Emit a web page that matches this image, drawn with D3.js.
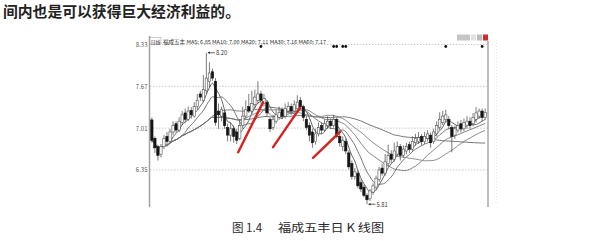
<!DOCTYPE html>
<html><head><meta charset="utf-8">
<script src="https://cdn.jsdelivr.net/npm/d3@7"></script>
<style>html,body{margin:0;padding:0;background:#fff;overflow:hidden}svg{display:block}</style>
</head><body>
<svg id="c" width="613" height="241"></svg>
<script>
// Daily OHLC prices of 福成五丰
const opens  = [7.14,6.85,6.72,6.60,6.72,6.88,6.80,6.95,7.08,6.98,7.10,7.25,7.15,7.29,7.20,7.35,7.55,7.45,7.60,7.75,7.90,7.75,7.28,7.20,7.25,7.02,6.90,7.00,6.95,6.85,7.05,7.20,7.35,7.28,7.38,7.45,7.55,7.40,7.42,7.15,7.02,7.12,7.18,7.30,7.20,7.28,7.35,7.28,7.32,7.45,7.35,7.15,7.05,6.95,6.80,6.92,7.05,6.98,7.05,7.12,7.05,7.15,6.88,6.72,6.80,6.62,6.45,6.25,6.30,6.15,6.08,5.95,5.90,6.00,6.08,6.20,6.38,6.30,6.45,6.60,6.52,6.60,6.72,6.58,6.65,6.75,6.68,6.78,6.80,6.88,6.80,6.85,6.90,6.80,6.92,7.02,7.10,7.15,7.15,7.02,6.90,6.98,7.08,7.00,7.05,7.12,7.08,7.15,7.20,7.28,7.18];
const highs  = [7.18,6.88,6.75,6.76,6.90,6.95,7.00,7.12,7.12,7.18,7.28,7.32,7.35,7.34,7.42,7.55,7.60,7.85,8.20,8.05,7.95,7.80,7.40,7.35,7.30,7.08,7.10,7.05,7.00,7.15,7.35,7.45,7.55,7.60,7.62,7.75,7.60,7.55,7.45,7.18,7.22,7.30,7.35,7.34,7.40,7.42,7.40,7.45,7.53,7.50,7.38,7.20,7.10,7.00,7.00,7.10,7.10,7.15,7.20,7.16,7.22,7.18,6.92,6.88,6.84,6.66,6.50,6.38,6.34,6.20,6.12,5.98,6.05,6.14,6.26,6.40,6.45,6.60,6.75,6.66,6.78,6.80,6.76,6.74,6.78,6.80,6.88,6.92,6.95,6.92,6.95,6.98,6.94,7.00,7.12,7.26,7.28,7.30,7.20,7.06,7.05,7.12,7.14,7.16,7.20,7.18,7.25,7.34,7.32,7.32,7.32];
const lows   = [6.78,6.62,6.50,6.55,6.68,6.76,6.78,6.90,6.94,6.95,7.06,7.10,7.12,7.16,7.18,7.30,7.44,7.42,7.55,7.65,7.76,7.05,7.00,7.12,7.00,6.80,6.80,6.78,6.76,6.82,7.00,7.15,7.25,7.24,7.32,7.40,7.40,7.35,7.20,6.95,6.98,7.08,7.14,7.15,7.16,7.24,7.22,7.25,7.30,7.30,7.12,6.98,6.80,6.70,6.75,6.88,6.92,6.95,7.00,7.00,7.02,6.85,6.72,6.65,6.60,6.36,6.20,6.20,6.06,6.00,5.92,5.81,5.86,5.96,6.04,6.16,6.26,6.26,6.40,6.46,6.48,6.56,6.50,6.54,6.60,6.62,6.64,6.74,6.76,6.74,6.76,6.80,6.70,6.76,6.88,6.98,7.06,7.10,7.00,6.63,6.84,6.94,6.94,6.96,7.00,7.00,7.04,7.10,7.16,7.12,7.14];
const closes = [6.82,6.70,6.58,6.72,6.85,6.80,6.95,7.05,6.98,7.12,7.22,7.15,7.28,7.22,7.35,7.45,7.50,7.62,7.80,7.88,7.80,7.10,7.22,7.30,7.05,6.90,7.00,6.88,6.82,7.05,7.20,7.30,7.28,7.40,7.50,7.55,7.45,7.48,7.25,7.00,7.15,7.22,7.26,7.20,7.32,7.35,7.28,7.38,7.42,7.35,7.18,7.02,6.90,6.78,6.92,7.02,6.98,7.08,7.12,7.05,7.15,6.88,6.78,6.82,6.65,6.40,6.25,6.32,6.10,6.05,5.95,5.88,6.02,6.10,6.22,6.35,6.30,6.48,6.58,6.52,6.65,6.72,6.58,6.68,6.72,6.68,6.80,6.85,6.86,6.80,6.88,6.92,6.78,6.95,7.05,7.15,7.20,7.22,7.05,6.88,7.00,7.05,7.00,7.10,7.12,7.05,7.18,7.25,7.28,7.18,7.26];

const priceTicks = [8.33, 7.67, 7.01, 6.35];
const maWindows = [5, 10, 20, 30, 60];
const maColors = ["#555", "#666", "#777", "#828282", "#6a6a6a"];
const headerLabel = "福成五丰 MA5: 6.85 MA10: 7.00 MA20: 7.11 MA30: 7.16 MA60: 7.17";
const periodLabel = "日线";
const eventDays = [36, 60, 61, 63, 64, 97, 109];
// hand-drawn trend strokes: [fromDay, fromPrice, toDay, toPrice]
const trendStrokes = [[28.5, 6.63, 36.7, 7.42], [40.0, 6.71, 48.9, 7.33], [53.2, 6.54, 62.1, 6.95]];
const introText = "间内也是可以获得巨大经济利益的。";
const captionNo = "图 1.4";
const captionText = "福成五丰日 K 线图";

const svg = d3.select("#c");
const n = closes.length;
const days = d3.range(n);

const x = d3.scaleBand().domain(days).range([150, 487]).padding(0.22);
const bw = x.bandwidth();
const xd = d3.scaleLinear().domain([0, n - 1]).range([x(0) + bw / 2, x(n - 1) + bw / 2]);
const y = d3.scaleLinear().domain([6.35, 8.33]).range([170, 44.5]);

const font = "'Noto Sans CJK SC','Noto Sans',sans-serif";

// intro sentence
svg.append("text").attr("x", 3).attr("y", 10).attr("dominant-baseline", "central")
  .attr("font-family", font).attr("font-size", 14.8).attr("font-weight", "bold")
  .attr("fill", "#222").attr("textLength", 237).attr("lengthAdjust", "spacingAndGlyphs")
  .text(introText);

// grid lines
svg.append("g").selectAll("line").data(priceTicks).join("line")
  .attr("x1", 150).attr("x2", 488).attr("y1", d => y(d)).attr("y2", d => y(d))
  .attr("stroke", "#bdbdbd").attr("stroke-width", 0.8).attr("stroke-dasharray", "1.5,1.5");

// price axis
const yAxis = d3.axisLeft(y).tickValues(priceTicks).tickSize(0).tickPadding(2).tickFormat(d3.format(".2f"));
const ga = svg.append("g").attr("transform", "translate(149.5,0)").call(yAxis);
ga.select(".domain").remove();
ga.selectAll("text").attr("font-family", font).attr("font-size", 6).attr("fill", "#555");
svg.append("line").attr("x1", 149.5).attr("x2", 149.5).attr("y1", 36).attr("y2", 207)
  .attr("stroke", "#a0a0a0").attr("stroke-width", 1.5);
svg.append("line").attr("x1", 488).attr("x2", 488).attr("y1", 41).attr("y2", 207)
  .attr("stroke", "#a8a8a8").attr("stroke-width", 1.5);
svg.append("line").attr("x1", 496.5).attr("x2", 496.5).attr("y1", 40).attr("y2", 205)
  .attr("stroke", "#e6e6e6").attr("stroke-width", 1).attr("stroke-dasharray", "1,2");

// header
svg.append("rect").attr("x", 150).attr("y", 37.5).attr("width", 11).attr("height", 6.5)
  .attr("fill", "#fff").attr("stroke", "#999").attr("stroke-width", 0.5);
svg.append("text").attr("x", 150.8).attr("y", 41).attr("dominant-baseline", "central")
  .attr("font-family", font).attr("font-size", 4.8).attr("fill", "#333").text(periodLabel);
svg.append("text").attr("x", 163).attr("y", 41).attr("dominant-baseline", "central")
  .attr("font-family", font).attr("font-size", 5.2).attr("fill", "#2a2a2a")
  .attr("textLength", 163).attr("lengthAdjust", "spacingAndGlyphs").text(headerLabel);

// window buttons
const btn = svg.append("g");
[[457, 13, "#c6c6c6"], [471, 5, "#e2e2e2"], [477, 5, "#bdbdbd"], [483, 5, "#d42a2a"]].forEach(b => {
  btn.append("rect").attr("x", b[0]).attr("y", 34.5).attr("width", b[1]).attr("height", 6).attr("fill", b[2]);
});

// event markers
svg.append("g").selectAll("circle").data(eventDays).join("circle")
  .attr("cx", d => xd(d)).attr("cy", 46.5).attr("r", 1.4).attr("fill", "#111");

// moving averages
maWindows.forEach((w, k) => {
  const ma = days.map(i => d3.mean(closes.slice(Math.max(0, i - w + 1), i + 1)));
  svg.append("path").datum(ma)
    .attr("d", d3.line().x((d, i) => xd(i)).y(d => y(d)).curve(d3.curveMonotoneX))
    .attr("fill", "none").attr("stroke", maColors[k]).attr("stroke-width", 0.9);
});

// candles
const candles = svg.append("g").selectAll("g").data(days).join("g");
candles.append("line")
  .attr("x1", i => x(i) + bw / 2).attr("x2", i => x(i) + bw / 2)
  .attr("y1", i => y(highs[i])).attr("y2", i => y(lows[i]))
  .attr("stroke", "#444").attr("stroke-width", 0.7);
candles.append("rect")
  .attr("x", i => x(i)).attr("width", bw)
  .attr("y", i => y(Math.max(opens[i], closes[i])))
  .attr("height", i => Math.max(0.8, Math.abs(y(opens[i]) - y(closes[i]))))
  .attr("fill", i => closes[i] >= opens[i] ? "#fff" : "#151515")
  .attr("stroke", i => closes[i] >= opens[i] ? "#555" : "#151515").attr("stroke-width", 0.6);

// high / low labels
const hiDay = d3.maxIndex(highs), loDay = d3.minIndex(lows);
[[hiDay, highs[hiDay]], [loDay, lows[loDay]]].forEach(([d, v]) => {
  const x0 = xd(d) + 1.5, y0 = y(v);
  svg.append("line").attr("x1", x0).attr("x2", x0 + 7).attr("y1", y0).attr("y2", y0)
    .attr("stroke", "#222").attr("stroke-width", 0.7);
  svg.append("path").attr("d", `M${x0},${y0}l2,-1.2v2.4z`).attr("fill", "#222");
  svg.append("text").attr("x", x0 + 8).attr("y", y0).attr("dominant-baseline", "central")
    .attr("font-family", font).attr("font-size", 5.8).attr("fill", "#333").text(d3.format(".2f")(v));
});

// trend strokes
svg.append("g").selectAll("line").data(trendStrokes).join("line")
  .attr("x1", d => xd(d[0])).attr("y1", d => y(d[1]))
  .attr("x2", d => xd(d[2])).attr("y2", d => y(d[3]))
  .attr("stroke", "#d8201c").attr("stroke-width", 2.4).attr("stroke-linecap", "round");

// caption
svg.append("text").attr("x", 232).attr("y", 227).attr("dominant-baseline", "central")
  .attr("font-family", font).attr("font-size", 11.5).attr("fill", "#2a2a2a").text(captionNo);
svg.append("text").attr("x", 278).attr("y", 227).attr("dominant-baseline", "central")
  .attr("font-family", font).attr("font-size", 11.5).attr("fill", "#2a2a2a")
  .attr("textLength", 106).attr("lengthAdjust", "spacingAndGlyphs").text(captionText);
</script>
</body></html>
